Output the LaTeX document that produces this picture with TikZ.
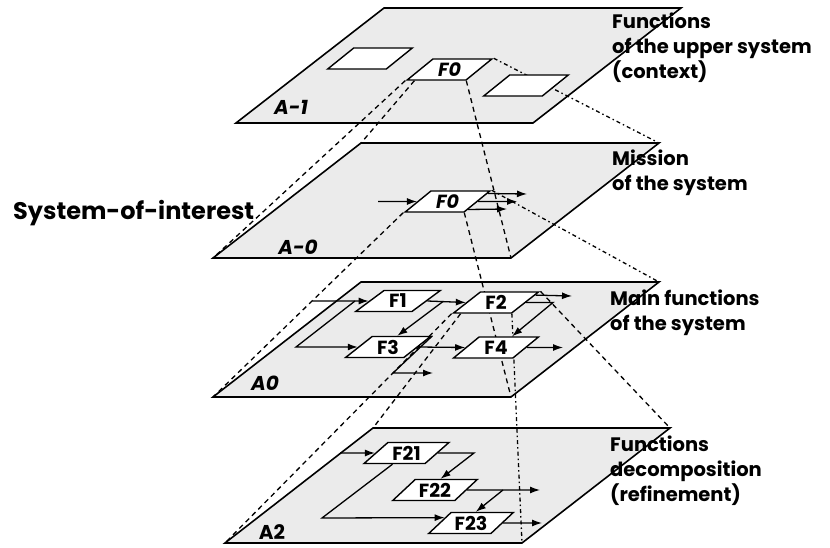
\documentclass[tikz,border=0pt]{standalone}
\usepackage{fontspec}
\setmainfont{Poppins}
\usetikzlibrary{shapes.geometric}
\usetikzlibrary{arrows.meta}
\usetikzlibrary{calc}
\pgfdeclarelayer{back}
\pgfdeclarelayer{mid}
\pgfsetlayers{back,mid,main}

\begin{document}
\begin{tikzpicture}[x=1pt, y=-1pt,
  plane/.style={draw, fill=black!8, line width=1.6pt},
  fbox/.style={trapezium, trapezium left angle=37.85, trapezium right angle=142.15,
    trapezium stretches=true, minimum width=85pt, minimum height=21pt, inner sep=0pt,
    draw, fill=white, line width=1.4pt, font=\fontsize{19}{19}\selectfont\bfseries},
  fboxit/.style={fbox, font=\fontsize{19}{19}\selectfont\bfseries\itshape},
  flow/.style={line width=1.3pt, -{Latex[length=10pt,width=7pt]}},
  proj/.style={line width=1.3pt, dash pattern=on 5pt off 4pt},
  projdot/.style={line width=1.3pt, dash pattern=on 4pt off 3pt on 1.5pt off 3pt},
  lvl/.style={anchor=north west, inner sep=0pt, align=left, font=\fontsize{19.5}{25}\selectfont\bfseries},
  plabel/.style={inner sep=0pt, font=\fontsize{20}{20}\selectfont\bfseries\itshape}]

\useasboundingbox (0,0) rectangle (830,548);

\coordinate (m1bl) at (236,123); \coordinate (m1br) at (533,123);
\coordinate (m1tr) at (681,8);   \coordinate (m1tl) at (384,8);
\coordinate (m0bl) at (213,258); \coordinate (m0br) at (511,258);
\coordinate (m0tr) at (659,143); \coordinate (m0tl) at (361,143);
\coordinate (a0bl) at (213,397); \coordinate (a0br) at (511,397);
\coordinate (a0tr) at (659,282); \coordinate (a0tl) at (361,282);
\coordinate (a2bl) at (225,543); \coordinate (a2br) at (522,543);
\coordinate (a2tr) at (670,428); \coordinate (a2tl) at (373,428);

\begin{pgfonlayer}{back}
\draw[plane] (m1bl) -- (m1br) -- (m1tr) -- (m1tl) -- cycle;
\draw[plane] (m0bl) -- (m0br) -- (m0tr) -- (m0tl) -- cycle;
\draw[plane] (a0bl) -- (a0br) -- (a0tr) -- (a0tl) -- cycle;
\draw[plane] (a2bl) -- (a2br) -- (a2tr) -- (a2tl) -- cycle;
\end{pgfonlayer}

\node[plabel] (lm1) at (291,107) {A-1};
\node[plabel] (lm0) at (298,247) {A-0};
\node[plabel] (la0) at (265,383) {A0};
\node[plabel, font=\fontsize{20}{20}\selectfont\bfseries] (la2) at (272,532) {A2};

\node[lvl] (ctx) at (612,13) {Functions\\of the upper system\\(context)};
\node[lvl] (mis) at (612,150) {Mission\\of the system};
\node[lvl] (mainf) at (610,290) {Main functions\\of the system};
\node[lvl] (dec) at (610,436) {Functions\\decomposition\\(refinement)};
\node[anchor=west, inner sep=0pt, font=\fontsize{24}{24}\selectfont\bfseries] (soi) at (13,213) {System-of-interest};

\node[fbox] (ctxa) at (370,58.5) {\phantom{F0}};
\node[fboxit] (F0a) at (449.5,69.5) {F0};
\node[fbox] (ctxb) at (526,85.5) {\phantom{F0}};
\node[fboxit] (F0b) at (447.5,201.5) {F0};
\node[fbox] (F1) at (398,301) {F1};
\node[fbox] (F2) at (496,302.5) {F2};
\node[fbox] (F3) at (388,347) {F3};
\node[fbox] (F4) at (496,347.5) {F4};
\node[fbox] (F21) at (406.5,453) {F21};
\node[fbox] (F22) at (435,490) {F22};
\node[fbox] (F23) at (471,523) {F23};

\begin{pgfonlayer}{mid}
\draw[proj] (F0a.bottom left corner) -- (m0bl);
\draw[proj] ($(F0a.bottom left corner)!0.15!(F0a.bottom right corner)$) -- (m0tl);
\draw[proj] (F0a.bottom right corner) -- (m0br);
\draw[projdot] (F0a.top right corner) -- (m0tr);
\draw[proj] (F0b.bottom left corner) -- (a0bl);
\draw[proj] (F0b.bottom right corner) -- (a0br);
\draw[projdot] (F0b.top right corner) -- (a0tr);
\draw[proj] (F2.bottom left corner) -- (a2bl);
\draw[proj] ($(F2.bottom left corner)!0.15!(F2.bottom right corner)$) -- (a2tl);
\draw[projdot] (F2.bottom right corner) -- (a2br);
\draw[proj] (F2.top right corner) -- (a2tr);
\end{pgfonlayer}

\coordinate (in0) at (378,201.5);
\coordinate (o0a) at (527,194);
\coordinate (o0b) at (517,201.5);
\coordinate (o0c) at (507,209);
\draw[flow] (in0) -- (F0b.west);
\draw[flow] ($(F0b.bottom right corner)!0.857!(F0b.top right corner)$) -- (o0a);
\draw[flow] (F0b.east) -- (o0b);
\draw[flow] ($(F0b.bottom right corner)!0.143!(F0b.top right corner)$) -- (o0c);

\coordinate (in1) at (313,301);
\coordinate (b1) at (355,301);
\coordinate (b2) at (296,347);
\coordinate (j13) at (443,301.5);
\coordinate (o2) at (572,296);
\coordinate (j24) at (553,302.5);
\coordinate (d3) at (393,373);
\coordinate (o3) at (433,373);
\coordinate (o4) at (563,347.5);
\draw[flow] (in1) -- (F1.west);
\draw[flow] (b1) -- (b2) -- (F3.west);
\draw[flow] (F1.east) -- (F2.west);
\draw[flow] (j13) -- ($(F3.top left corner)!0.42!(F3.top right corner)$);
\draw[flow] ($(F2.bottom right corner)!0.83!(F2.top right corner)$) -- (o2);
\draw[flow] (F2.east) -- (j24) -- ($(F4.top left corner)!0.54!(F4.top right corner)$);
\draw[flow] (F3.east) -- (F4.west);
\draw[flow] (F3.top right corner) -- (d3) -- (o3);
\draw[flow] (F4.east) -- (o4);

\coordinate (in2) at (340,453);
\coordinate (j12) at (474,453);
\coordinate (c13) at (322,518);
\coordinate (o22) at (540,490);
\coordinate (j23) at (503,490);
\coordinate (o23) at (542,523);
\draw[flow] (in2) -- (F21.west);
\draw[flow] (F21.east) -- (j12) -- ($(F22.top left corner)!0.4!(F22.top right corner)$);
\draw[flow] ($(F21.bottom left corner)!0.48!(F21.bottom right corner)$) -- (c13) -- ($(F23.bottom left corner)!0.74!(F23.top left corner)$);
\draw[flow] (F22.east) -- (o22);
\draw[flow] (j23) -- ($(F23.top left corner)!0.39!(F23.top right corner)$);
\draw[flow] (F23.east) -- (o23);

\end{tikzpicture}
\end{document}
